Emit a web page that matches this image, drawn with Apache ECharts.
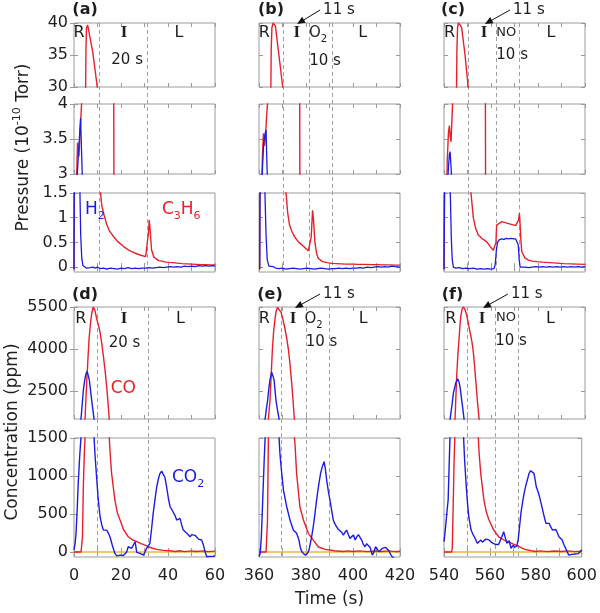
<!DOCTYPE html>
<html><head><meta charset="utf-8">
<script src="https://cdn.jsdelivr.net/npm/echarts@6/dist/echarts.min.js"></script>
<style>html,body{margin:0;padding:0;background:#fff}#c{width:600px;height:613px}</style>
</head><body><div id="c"></div>
<script>
// ---------------- DATA (time relative to column start, s) ----------------
const colStart = [0, 360, 540];
const xTickLabelValues = [[0,20,40,60],[360,380,400,420],[540,560,580,600]];

// Pressure (1e-10 Torr) — C3H6 (red) and H2 (blue), three broken-axis rows
const c3h6_hi_a = [[4.9,28],[5.1,36],[5.3,39.2],[5.8,39.7],[6.4,39.4],[8.0,35.4],[9.9,30],[10.3,28]];
const c3h6_mid_a = [[1.1,2.9],[1.3,3.2],[1.5,3.45],[1.8,3.35],[2.1,3.25],[2.6,3.6],[3.3,4.05],[3.5,4.3],[16.9,4.3],[17.0,2.8]];
const h2_mid_a = [[1.3,2.9],[1.4,3.0],[2.1,3.4],[2.8,3.8],[3.5,3.0],[3.6,2.9]];
const c3h6_lo_a = [[0,-0.05],[0.1,1.7],[11.2,1.7],[11.3,1.5],[11.8,1.25],[12.8,1.05],[14,0.85],[15,0.74],[16.3,0.65],[18.5,0.52],[21,0.42],[23.4,0.34],[26,0.28],[28.5,0.24],[30.5,0.21],[31.3,0.22],[31.7,0.7],[32,0.95],[32.4,0.75],[33,0.35],[34,0.2],[34.8,0.16],[36,0.13],[37.5,0.12],[39,0.1],[40.4,0.095],[42,0.09],[44,0.08],[46,0.07],[48,0.065],[50,0.06],[52,0.055],[54,0.05],[56,0.05],[58,0.045],[60,0.045]];
const h2_lo_a = [[0,-0.04],[0.15,1.7],[2.5,1.7],[2.55,1.45],[2.85,0.65],[3.3,0.18],[3.8,0.03],[4.5,0.0],[5.2,-0.02],[6,0.01],[7,-0.01],[8,0.0],[9,-0.02],[10,0.0],[11,-0.03],[12.5,-0.02],[14,-0.04],[15.5,-0.02],[17,-0.03],[18.5,-0.04],[20,-0.02],[21.5,-0.03],[23,-0.01],[24.5,-0.03],[26,-0.02],[27.5,-0.03],[29,-0.02],[30.5,-0.02],[32,-0.01],[33.5,-0.02],[35,-0.01],[36.5,0.0],[38,-0.01],[39.5,0.0],[41,0.01],[42.5,0.0],[44,0.01],[45.5,0.0],[47,0.02],[48.5,0.01],[50,0.02],[51.5,0.01],[53,0.03],[54.5,0.02],[56,0.03],[57.5,0.02],[59,0.03],[60,0.02]];

const c3h6_hi_b = [[5.0,28],[5.2,36],[5.5,39.3],[6.0,40],[6.5,40],[7.0,39.5],[8.2,35.8],[10.1,30],[10.4,28]];
const c3h6_mid_b = [[1.2,2.9],[1.5,3.3],[1.9,3.58],[2.3,3.4],[2.7,3.5],[3.2,3.8],[3.7,4.05],[4.0,4.3],[17.3,4.3],[17.4,2.8]];
const h2_mid_b = [[1.3,2.9],[1.5,3.1],[2.0,3.45],[2.6,3.58],[3.0,3.63],[3.4,3.1],[3.6,2.9]];
const c3h6_lo_b = [[0.3,-0.05],[0.4,1.7],[11.3,1.7],[11.5,1.5],[12.2,1.1],[13.0,0.85],[14,0.72],[15.3,0.6],[17,0.5],[18.9,0.42],[20,0.37],[21,0.33],[21.8,0.31],[22.2,0.6],[22.8,1.15],[23.2,0.95],[23.8,0.5],[24.5,0.28],[25.2,0.18],[26,0.14],[27,0.11],[29,0.09],[30.9,0.075],[33,0.07],[35,0.065],[37,0.06],[40,0.06],[42,0.055],[45,0.055],[48,0.05],[50,0.05],[53,0.045],[55,0.045],[58,0.04],[60,0.04]];
const h2_lo_b = [[0.3,-0.04],[0.45,1.7],[2.5,1.7],[2.55,1.45],[3.0,0.65],[3.5,0.15],[4.2,0.02],[5,-0.02],[6,0.01],[7,-0.02],[8.5,-0.03],[10,-0.02],[11.5,-0.04],[13,-0.03],[14.5,-0.02],[16,-0.03],[17.5,-0.04],[19,-0.03],[20.5,-0.02],[22,-0.03],[23.5,-0.04],[25,-0.03],[26.5,-0.02],[28,-0.03],[29.5,-0.04],[31,-0.03],[32.5,-0.03],[34,-0.02],[35.5,-0.03],[37,-0.02],[38.5,-0.03],[40,-0.02],[41.5,-0.02],[43,-0.01],[44.5,-0.02],[46,0.0],[47.5,-0.01],[49,0.0],[50.5,0.01],[52,0.0],[53.5,0.01],[55,0.0],[56.5,0.02],[58,0.01],[60,0.0]];

const c3h6_hi_c = [[5.3,28],[5.5,36],[5.8,39.5],[6.2,40],[6.8,40],[7.5,39.3],[8.9,35.2],[10.3,30],[10.6,28]];
const c3h6_mid_c = [[1.2,2.9],[1.4,3.2],[1.9,3.6],[2.3,3.69],[2.6,3.55],[3.0,3.46],[3.4,3.8],[3.7,4.05],[4.0,4.3],[17.6,4.3],[17.7,2.8]];
const h2_mid_c = [[1.6,2.9],[1.9,3.1],[2.3,3.28],[2.6,3.32],[3.0,3.1],[3.3,2.9]];
const c3h6_lo_c = [[0,-0.05],[0.1,1.7],[11.3,1.7],[11.5,1.49],[12.5,0.99],[13.5,0.78],[14.6,0.65],[16.4,0.57],[18.2,0.51],[19.6,0.42],[21,0.34],[21.8,0.32],[22.1,0.5],[22.4,0.85],[23.2,0.88],[24.6,0.92],[26,0.9],[27.5,0.88],[29,0.86],[30.5,0.84],[31.2,0.83],[31.7,0.95],[32.1,1.09],[32.4,0.85],[32.7,0.55],[33.1,0.31],[34.5,0.18],[36,0.14],[37.5,0.12],[39.5,0.11],[42,0.1],[45,0.09],[48,0.08],[51,0.07],[54,0.065],[57,0.06],[60,0.055]];
const h2_lo_c = [[0,-0.04],[0.3,1.7],[2.5,1.7],[2.7,1.45],[3.1,0.6],[3.5,0.15],[4,0.0],[5,-0.02],[6.5,-0.01],[8,-0.03],[9.5,-0.02],[11,-0.03],[12.5,-0.02],[14,-0.04],[15.5,-0.03],[17,-0.04],[18.5,-0.03],[20,-0.04],[21.3,-0.03],[21.8,0.05],[22.3,0.35],[22.8,0.5],[23.5,0.55],[24.5,0.57],[25.5,0.56],[26.5,0.58],[27.5,0.57],[28.5,0.58],[29.5,0.57],[30.5,0.57],[31.2,0.56],[31.6,0.45],[32.0,0.15],[32.4,0.0],[33,-0.01],[34.5,0.0],[36,-0.01],[37.5,0.0],[39,0.01],[40.5,0.0],[42,0.01],[43.5,0.0],[45,0.01],[46.5,0.0],[48,0.01],[49.5,0.0],[51,0.01],[52.5,0.0],[54,0.01],[55.5,0.0],[57,0.01],[58.5,0.0],[60,0.01]];

// Concentration (ppm) — CO (red), CO2 (blue), zero trace (orange)
const co_a = [[0,0],[1,0],[2,0],[3,0],[3.3,5],[3.6,200],[4.0,900],[4.4,1300],[4.7,1500],[5.0,2100],[5.4,2800],[5.9,3600],[6.4,4350],[7.0,4900],[7.5,5250],[8.2,5500],[8.9,5380],[9.7,5070],[10.4,4850],[11.1,4590],[11.8,4200],[12.5,3745],[13.2,3250],[13.9,2665],[14.5,2050],[15.0,1500],[15.5,1250],[16,1035],[17.4,684],[18.5,510],[19.6,421],[21,300],[23.1,201],[25,160],[26.7,136],[28.5,110],[30,95],[31.6,70],[33.5,50],[35.2,35],[38,22],[40.9,17],[43,8],[45,18],[47,6],[50,16],[52,7],[55,15],[57,6],[60,12]];
const co2_a = [[0,30],[0.5,120],[0.9,260],[1.4,600],[1.8,900],[2.4,1250],[3.0,1525],[4.0,2545],[4.5,2850],[5.0,3085],[5.6,3200],[6.0,3150],[6.5,2905],[7.0,2550],[7.5,2185],[8.0,1850],[8.5,1525],[9.0,1250],[9.6,991],[10.3,700],[11.1,465],[11.8,360],[12.5,289],[13.9,289],[14.6,250],[15.3,201],[16.3,90],[17.4,-18],[18.2,-50],[18.9,-62],[19.6,-40],[20.3,-18],[21,-45],[21.7,-62],[22.4,0],[23.1,70],[23.8,50],[24.5,48],[25.2,90],[26,136],[26.7,-4],[27.4,10],[28.1,-18],[28.8,-30],[29.5,-40],[30.2,0],[30.9,48],[31.6,80],[32.3,114],[33,300],[33.7,509],[34.5,700],[35.2,859],[35.9,960],[36.6,1035],[37.3,1065],[38,1057],[38.7,980],[39.4,859],[40.2,700],[40.9,596],[41.6,560],[42.3,552],[43,480],[43.7,421],[44.4,440],[45.1,443],[45.8,360],[46.5,289],[47.3,270],[48,246],[48.7,220],[49.4,201],[50.1,230],[50.8,246],[51.5,220],[52.2,201],[53,170],[53.5,165],[54.3,158],[55,100],[55.8,0],[56.5,-62],[57.2,-55],[57.9,-57],[58.6,-60],[59.3,-55],[60,-50]];

const co_b = [[0,0],[3.0,0],[3.3,10],[3.6,400],[4.0,1500],[4.7,2185],[5.2,3100],[5.7,3990],[6.2,4600],[6.8,5070],[7.3,5350],[7.9,5490],[8.6,5420],[9.4,5310],[10.2,5050],[11.1,4705],[11.8,4380],[12.5,3990],[13.2,3450],[13.9,2790],[14.5,2150],[15.0,1525],[15.3,1430],[16,1035],[17.4,596],[18.9,421],[21,246],[23.1,158],[25.2,70],[28,35],[32.3,17],[36,8],[38,16],[40,7],[43,15],[46,6],[49,14],[52,7],[55,15],[58,6],[60,10]];
const co2_b = [[0,-60],[0.5,-20],[1,200],[1.6,700],[2.2,1200],[2.6,1500],[3.2,1900],[3.7,2185],[4.2,2600],[4.7,2905],[5.4,3170],[5.9,3100],[6.4,2905],[6.8,2550],[7.2,2185],[7.8,1850],[8.5,1525],[8.9,1300],[9.4,1122],[10.4,816],[11.8,596],[13.2,421],[14.6,289],[16,246],[17,158],[17.6,60],[18.2,4],[18.9,-20],[19.6,-40],[20.1,-35],[20.6,-18],[21.2,20],[21.7,92],[22.4,200],[23.1,333],[23.8,500],[24.5,684],[25.3,860],[26.2,1035],[27,1130],[27.7,1188],[28.2,1100],[28.8,947],[29.5,800],[30.2,684],[30.9,550],[31.6,421],[32.3,370],[33,333],[33.7,300],[34.5,289],[35.2,260],[35.9,224],[36.6,260],[37.3,289],[38,230],[38.7,180],[39.4,200],[40.2,224],[40.9,158],[41.6,200],[42.3,230],[43,246],[43.7,158],[44.4,100],[45.1,70],[45.8,110],[46.5,136],[47.3,60],[48.2,-40],[48.9,0],[49.6,70],[50.3,40],[51,4],[51.7,30],[52.4,48],[53.1,65],[53.9,61],[54.6,40],[55.3,17],[56,-30],[56.7,-62],[57.5,-80]];

const co_c = [[0,0],[3.3,0],[3.6,50],[4.0,600],[4.4,1200],[4.7,1500],[5.4,3025],[5.9,3800],[6.4,4355],[6.8,4850],[7.2,5195],[7.7,5420],[8.2,5500],[8.9,5420],[9.7,5195],[10.5,4850],[11.4,4475],[12.0,4200],[12.5,3870],[13.0,3400],[13.6,2790],[14.2,2150],[14.9,1525],[15.3,1300],[16,1035],[17.4,684],[18.5,520],[19.6,421],[21.7,289],[23.8,201],[26.7,149],[29.5,114],[32.3,79],[35.2,35],[38,17],[40,8],[42,16],[45,6],[48,14],[51,7],[54,15],[57,6],[60,12]];
const co2_c = [[0,136],[0.6,300],[1.2,500],[1.8,684],[2.2,1100],[2.6,1500],[2.8,1525],[3.4,2000],[4.0,2425],[5.0,2785],[5.8,2940],[6.3,2850],[6.8,2665],[7.2,2400],[7.7,2065],[8.1,1800],[8.5,1525],[9.0,1200],[9.7,859],[10.3,620],[10.8,465],[11.8,289],[12.5,240],[13.2,201],[14.0,150],[14.6,114],[15.3,140],[16,158],[16.7,130],[17.4,149],[18.2,170],[18.9,180],[19.6,160],[20.3,136],[21,120],[21.7,114],[22.4,100],[23.1,92],[23.8,100],[24.5,114],[25.2,200],[26,267],[26.7,246],[27.4,114],[27.9,130],[28.4,149],[29.2,48],[29.7,70],[30.2,92],[30.7,60],[31.2,35],[31.7,80],[32.3,158],[32.9,330],[33.5,509],[34.2,650],[34.9,772],[35.6,870],[36.3,947],[37,1030],[37.7,1070],[38.4,1060],[39.2,1035],[39.7,950],[40.2,859],[40.9,800],[41.6,728],[42.3,640],[43,552],[43.7,460],[44.4,377],[45.1,380],[45.8,377],[46.5,330],[47.3,289],[48,300],[48.7,297],[49.4,250],[50.1,201],[50.8,180],[51.5,158],[52.2,100],[53,48],[53.7,0],[54.4,-40],[55,-45],[55.8,-30],[56.5,-18],[57.2,-25],[57.9,-30],[58.6,-20],[59.3,0],[60,26]];
const zero_trace = [[0,0],[60,0]];

// Phase boundaries (dashed lines), absolute time
const phaseLinesTop = [[10.5,31.2],[370.1,381.3,390.9],[550.3,562.1,571.8]];
const phaseLinesBottom = [[9.7,31.7],[369.2,380,389.8],[549.7,561.7,571.6]];

// Y axis ranges and ticks per row
const yRanges = [[30,40],[3,4],[-0.1,1.5],[1500,5500],[-65,1500]];
const yTickValues = [[30,35,40],[3,3.5,4],[0,0.5,1,1.5],[2500,4000,5500],[0,500,1000,1500]];

// ---------------- LAYOUT & STYLE ----------------
const colLeft = [74, 259, 444], colW = 141;
const rowBox = [[23,64],[104,70],[193,79],[307,112],[438,119]];
const FONT = 'DejaVu Sans', SERIF = 'Liberation Serif';
const TXT = '#1e1e1e', RED = '#e6202a', BLUE = '#1c1ce0', ORANGE = '#efb43a', AX = '#9a9a9a';

const topRed = [[c3h6_hi_a,c3h6_mid_a,c3h6_lo_a],[c3h6_hi_b,c3h6_mid_b,c3h6_lo_b],[c3h6_hi_c,c3h6_mid_c,c3h6_lo_c]];
const topBlue = [[null,h2_mid_a,h2_lo_a],[null,h2_mid_b,h2_lo_b],[null,h2_mid_c,h2_lo_c]];
const botRed = [co_a, co_b, co_c];
const botBlue = [co2_a, co2_b, co2_c];

const grid = [], xAxis = [], yAxis = [], series = [];
for (let r = 0; r < 5; r++) {
  for (let c = 0; c < 3; c++) {
    const g = r * 3 + c;
    grid.push({left: colLeft[c], top: rowBox[r][0], width: colW, height: rowBox[r][1],
      show: true, borderColor: AX, borderWidth: 1, backgroundColor: 'transparent'});
    const xmin = colStart[c];
    const xTicks = [0,10,20,30,40,50,60].map(v => v + xmin);
    const xl = xTickLabelValues[c];
    ['bottom','top'].forEach((pos, k) => {
      xAxis.push({gridIndex: g, type: 'value', position: pos, min: xmin, max: xmin + 60, interval: 10,
        axisLine: {show: false}, splitLine: {show: false},
        axisTick: {show: true, inside: true, length: 4, customValues: xTicks, lineStyle: {color: AX}},
        axisLabel: {show: k === 0 && r === 4, customValues: xl, margin: 11,
          fontFamily: FONT, fontSize: 16, color: TXT,
          formatter: v => (xl.indexOf(Math.round(v)) >= 0 ? String(Math.round(v)) : '')}});
    });
    ['left','right'].forEach((pos, k) => {
      yAxis.push({gridIndex: g, type: 'value', position: pos, min: yRanges[r][0], max: yRanges[r][1],
        axisLine: {show: false}, splitLine: {show: false},
        axisTick: {show: true, inside: true, length: 4, customValues: yTickValues[r], lineStyle: {color: AX}},
        axisLabel: {show: k === 0 && c === 0, customValues: yTickValues[r], margin: 6,
          fontFamily: FONT, fontSize: 16, color: TXT, formatter: v => String(v)}});
    });
    const off = colStart[c];
    const mk = (data, color, w, z) => ({type: 'line', xAxisIndex: 2 * g, yAxisIndex: 2 * g,
      data: data.map(p => [p[0] + off, p[1]]), showSymbol: false, symbol: 'none', clip: true,
      animation: false, silent: true, z: z, lineStyle: {color: color, width: w}, itemStyle: {color: color}});
    if (r < 3) {
      if (topRed[c][r]) series.push(mk(topRed[c][r], RED, 1.4, 3));
      if (topBlue[c][r]) series.push(mk(topBlue[c][r], BLUE, 1.3, 4));
    } else {
      if (r === 4) series.push(mk(zero_trace, ORANGE, 1.6, 2));
      series.push(mk(botRed[c], RED, 1.4, 3));
      series.push(mk(botBlue[c], BLUE, 1.4, 4));
    }
  }
}

const chart = echarts.init(document.getElementById('c'), null, {renderer: 'canvas', width: 600, height: 613});
chart.setOption({animation: false, backgroundColor: '#fff', grid, xAxis, yAxis, series});

// ---------------- ANNOTATIONS (x in data units, dy = offset from panel top) ----------------
const phaseTextTop = [
  [['R',2.1,10,'n'],['I',21.3,10,'b'],['L',44.7,10,'n'],['20 s',22.6,37,'s']],
  [['R',2.3,10,'n'],['I',16.1,10,'b'],['O{s|2}',25.1,10,'o'],['L',44.1,10,'n'],['10 s',28.1,38,'s']],
  [['R',2.4,10,'n'],['I',17.0,10,'b'],['NO',26.5,10,'m'],['L',45.5,10,'n'],['10 s',29.0,32,'s']]
];
const phaseTextBottom = [
  [['R',2.9,12,'n'],['I',21.3,12,'b'],['L',45.3,12,'n'],['20 s',21.5,36,'s']],
  [['R',2.3,12,'n'],['I',14.5,12,'b'],['O{s|2}',23.2,12,'o'],['L',44.3,12,'n'],['10 s',26.6,35,'s']],
  [['R',2.9,12,'n'],['I',16.2,12,'b'],['NO',26.4,11,'m'],['L',45.3,12,'n'],['10 s',28.5,34,'s']]
];
const panelLetters = [['(a)',4.7,-13],['(b)',5.1,-13],['(c)',3.8,-13],['(d)',4.7,-12],['(e)',4.7,-12],['(f)',3.6,-12]];
const arrowsTop = [null, [16.2, 26.0], [17.4, 28.1]];     // [tip x, start x]
const arrowsBottom = [null, [15.3, 26.0], [16.6, 27.2]];

const px = (g, v) => chart.convertToPixel({xAxisIndex: 2 * g}, v);
const SUB = {s: {fontSize: 10, lineHeight: 10, verticalAlign: 'bottom', fontFamily: FONT}};
const G = [];
function text(x, y, t, opt) {
  G.push({type: 'text', x: x, y: y, z: 100, silent: true, style: Object.assign({text: t, fill: TXT,
    fontFamily: FONT, fontSize: 16, align: 'center', verticalAlign: 'middle'}, opt || {})});
}
function styleFor(kind) {
  if (kind === 'b') return {fontFamily: SERIF, fontWeight: 'bold', fontSize: 17};
  if (kind === 's') return {fontSize: 15};
  if (kind === 'm') return {fontSize: 13};
  if (kind === 'o') return {fontSize: 15, lineHeight: 22, rich: SUB};
  return {fontSize: 16};
}

for (let c = 0; c < 3; c++) {
  const off = colStart[c];
  phaseLinesTop[c].forEach(v => {
    const x = Math.round(px(c, v)) + 0.5;
    G.push({type: 'line', z: 1, silent: true, shape: {x1: x, y1: rowBox[0][0], x2: x, y2: rowBox[2][0] + rowBox[2][1]},
      style: {stroke: '#a0a0a0', lineWidth: 1, lineDash: [4, 3]}});
  });
  phaseLinesBottom[c].forEach(v => {
    const x = Math.round(px(9 + c, v)) + 0.5;
    G.push({type: 'line', z: 1, silent: true, shape: {x1: x, y1: rowBox[3][0], x2: x, y2: rowBox[4][0] + rowBox[4][1]},
      style: {stroke: '#a0a0a0', lineWidth: 1, lineDash: [4, 3]}});
  });
  phaseTextTop[c].forEach(a => text(px(c, a[1] + off), rowBox[0][0] + a[2], a[0], styleFor(a[3])));
  phaseTextBottom[c].forEach(a => text(px(9 + c, a[1] + off), rowBox[3][0] + a[2], a[0], styleFor(a[3])));
  const lt = panelLetters[c], lb = panelLetters[3 + c];
  text(px(c, lt[1] + off), rowBox[0][0] + lt[2], lt[0], {fontWeight: 'bold', fontSize: 16});
  text(px(9 + c, lb[1] + off), rowBox[3][0] + lb[2], lb[0], {fontWeight: 'bold', fontSize: 16});
  [[arrowsTop[c], c, rowBox[0][0]], [arrowsBottom[c], 9 + c, rowBox[3][0]]].forEach(([ar, g, top]) => {
    if (!ar) return;
    const tx = px(g, ar[0] + off), ty = top + 1;
    const sx = px(g, ar[1] + off), sy = top - 13;
    const dx = tx - sx, dy = ty - sy, L = Math.hypot(dx, dy), ux = dx / L, uy = dy / L;
    const hl = 8, hw = 3.5;
    const bx = tx - ux * hl, by = ty - uy * hl;
    G.push({type: 'line', z: 100, silent: true, shape: {x1: sx, y1: sy, x2: bx, y2: by}, style: {stroke: '#111', lineWidth: 1}});
    G.push({type: 'polygon', z: 100, silent: true, shape: {points: [[tx, ty], [bx - uy * hw, by + ux * hw], [bx + uy * hw, by - ux * hw]]}, style: {fill: '#111'}});
    text(sx + 3, sy, '11 s', {align: 'left', fontSize: 15});
  });
}
text(px(6, 4.7), rowBox[2][0] + 17, 'H{s|2}', {align: 'left', fill: BLUE, fontSize: 17, lineHeight: 24, rich: {s: {fontSize: 11, lineHeight: 11, verticalAlign: 'bottom', fill: BLUE, fontFamily: FONT}}});
text(px(6, 37.4), rowBox[2][0] + 17, 'C{s|3}H{s|6}', {align: 'left', fill: RED, fontSize: 17, lineHeight: 24, rich: {s: {fontSize: 11, lineHeight: 11, verticalAlign: 'bottom', fill: RED, fontFamily: FONT}}});
text(px(9, 15.6), rowBox[3][0] + 82, 'CO', {align: 'left', fill: RED, fontSize: 17});
text(px(12, 41.7), rowBox[4][0] + 40, 'CO{s|2}', {align: 'left', fill: BLUE, fontSize: 17, lineHeight: 24, rich: {s: {fontSize: 11, lineHeight: 11, verticalAlign: 'bottom', fill: BLUE, fontFamily: FONT}}});
text(24, (rowBox[0][0] + rowBox[2][0] + rowBox[2][1]) / 2, 'Pressure (10{p|-10} Torr)',
  {fontSize: 17, lineHeight: 24, rich: {p: {fontSize: 11, lineHeight: 11, verticalAlign: 'top', fontFamily: FONT, fill: TXT}}});
G[G.length - 1].rotation = Math.PI / 2;
text(13, (rowBox[3][0] + rowBox[4][0] + rowBox[4][1]) / 2, 'Concentration (ppm)', {fontSize: 17});
G[G.length - 1].rotation = Math.PI / 2;
text((colLeft[0] + colLeft[2] + colW) / 2, 600, 'Time (s)', {fontSize: 17});

chart.setOption({graphic: {elements: G}});
</script></body></html>
